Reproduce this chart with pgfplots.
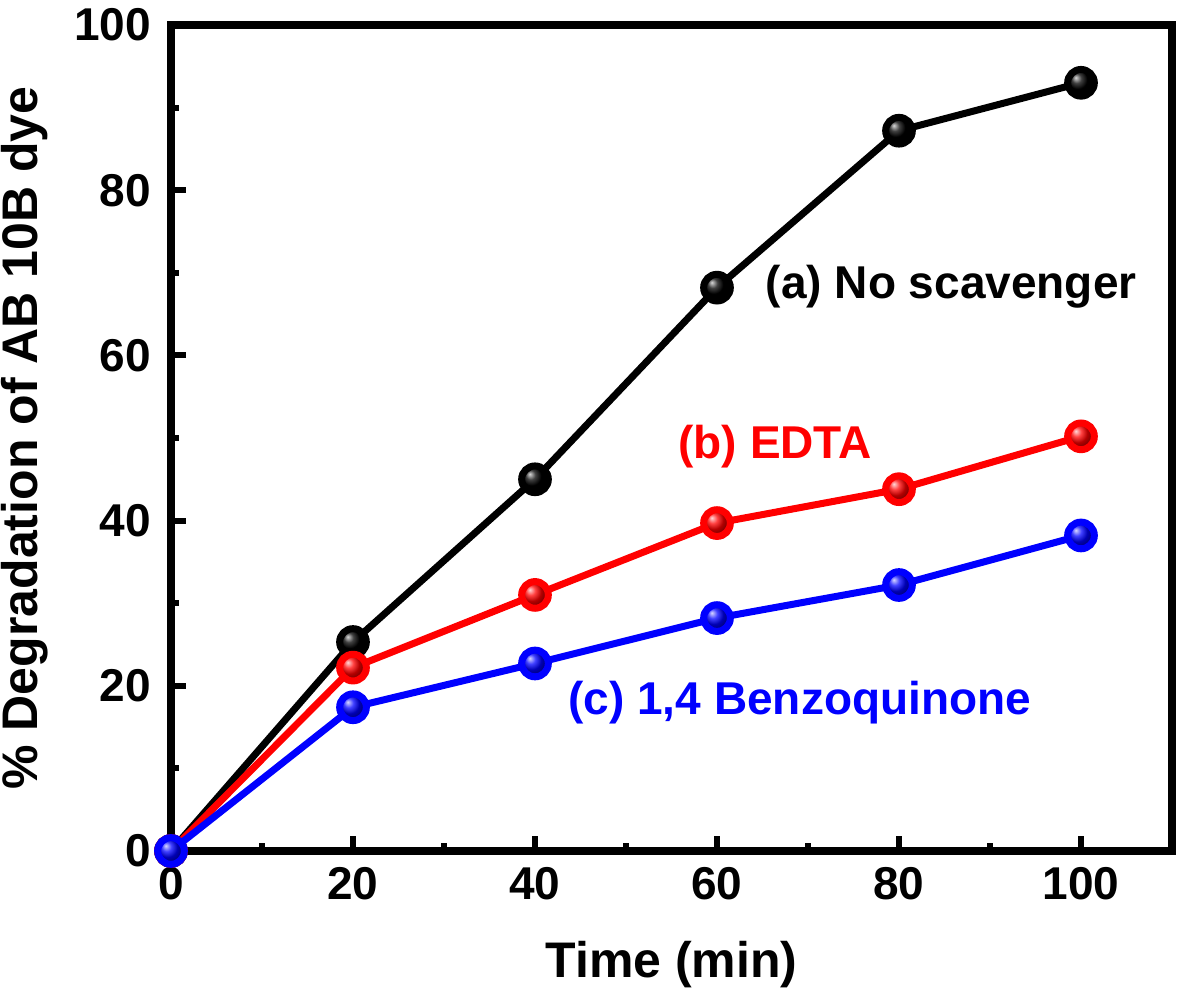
\documentclass[border=0pt]{standalone}
\usepackage{pgfplots}
\pgfplotsset{compat=1.18}
\usepackage{fontspec}
\setmainfont{Liberation Sans}
\usetikzlibrary{calc}

% 1 px of the reference = 0.3pt
\newcommand{\lblfont}{\fontsize{13.8}{16}\selectfont\bfseries}
\newcommand{\axfont}{\fontsize{15}{18}\selectfont\bfseries}

\begin{document}
\begin{tikzpicture}
\begin{axis}[
    name=ax,
    scale only axis,
    width=300.3pt, height=247.8pt,
    xmin=0, xmax=110,
    ymin=0, ymax=100,
    xtick={0,20,40,60,80,100},
    ytick={0,20,40,60,80,100},
    minor x tick num=1,
    minor y tick num=1,
    tick pos=left,
    tick align=inside,
    major tick length=4.5pt,
    minor tick length=2.4pt,
    every tick/.style={black, line width=1.8pt},
    axis line style={line width=2.4pt},
    /pgf/number format/assume math mode=true,
    ticklabel style={font=\lblfont},
    xticklabel style={yshift=-1.5pt},
    yticklabel style={xshift=-2.5pt},
    xlabel={Time (min)},
    ylabel={\% Degradation of AB 10B dye},
    label style={font=\axfont},
    xlabel style={at={(axis description cs:0.5,-0.138)}, anchor=center},
    ylabel style={at={(axis description cs:-0.1459,0.5)}, anchor=center},
    clip mode=individual,
]

\addplot[black, line width=2.1pt, mark=ball, mark size=4pt,
    mark options={ball color=black, draw=none}]
  coordinates {(0,0) (20,25.3) (40,45) (60,68.2) (80,87.2) (100,93)};

\addplot[red, line width=2.1pt, mark=ball, mark size=4pt,
    mark options={ball color=red, draw=none}]
  coordinates {(0,0) (20,22.2) (40,31) (60,39.7) (80,43.8) (100,50.2)};

\addplot[blue, line width=2.1pt, mark=ball, mark size=4pt,
    mark options={ball color=blue, draw=none}]
  coordinates {(0,0) (20,17.4) (40,22.7) (60,28.2) (80,32.2) (100,38.2)};

\node[anchor=west, text=black, font=\lblfont, inner sep=0pt] at (axis cs:65.3,68.3) {(a) No scavenger};
\node[anchor=west, text=red, font=\lblfont, inner sep=0pt] at (axis cs:55.7,48.9) {(b) EDTA};
\node[anchor=west, text=blue, font=\lblfont, inner sep=0pt] at (axis cs:43.6,18.0) {(c) 1,4 Benzoquinone};
\end{axis}
\pgfresetboundingbox
\path[use as bounding box] ($(ax.south west)+(-51.3pt,-45.9pt)$) rectangle ($(ax.north east)+(2.1pt,7.5pt)$);
\end{tikzpicture}
\end{document}
